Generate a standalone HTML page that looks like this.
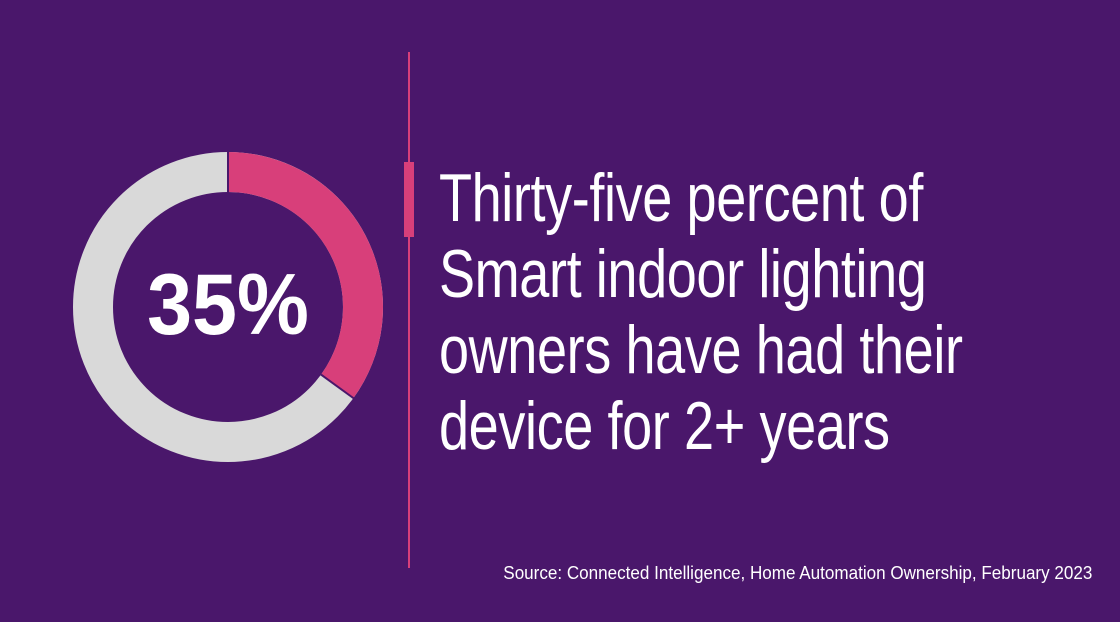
<!DOCTYPE html>
<html><head><meta charset="utf-8"><style>
html,body{margin:0;padding:0;}
body{width:1120px;height:622px;background:#4a176b;position:relative;overflow:hidden;font-family:"Liberation Sans",sans-serif;}
.vl{position:absolute;left:408px;top:52px;width:1.5px;height:516px;background:#d83f7a;}
.bar{position:absolute;left:404px;top:162px;width:10px;height:75px;background:#d83f7a;}
.txt{position:absolute;left:439px;top:160px;color:#fff;font-size:68px;line-height:76px;white-space:nowrap;letter-spacing:-0.5px;transform:scaleX(0.795);transform-origin:0 0;}
.src{position:absolute;right:28px;top:563px;color:#fff;font-size:18px;white-space:nowrap;transform:scaleX(0.948);transform-origin:100% 0;}
.pct{position:absolute;left:128px;top:255px;width:200px;text-align:center;color:#fff;font-weight:bold;font-size:86px;line-height:100px;transform:scaleX(0.94);}
</style></head><body>
<svg width="1120" height="622" style="position:absolute;left:0;top:0">
<circle cx="228" cy="307" r="135" fill="none" stroke="#d9d9d9" stroke-width="40"/>
<path d="M228 152 A155 155 0 0 1 353.4 398.1 L321.0 374.6 A115 115 0 0 0 228 192 Z" fill="#d83f7a"/>
<line x1="228" y1="150" x2="228" y2="193" stroke="#4a176b" stroke-width="2"/>
<line x1="321" y1="374.6" x2="354.6" y2="399" stroke="#4a176b" stroke-width="2"/>
</svg>
<div class="pct">35%</div>
<div class="vl"></div><div class="bar"></div>
<div class="txt">Thirty-five percent of<br>Smart indoor lighting<br>owners have had their<br>device for 2+ years</div>
<div class="src">Source: Connected Intelligence, Home Automation Ownership, February 2023</div>
</body></html>
